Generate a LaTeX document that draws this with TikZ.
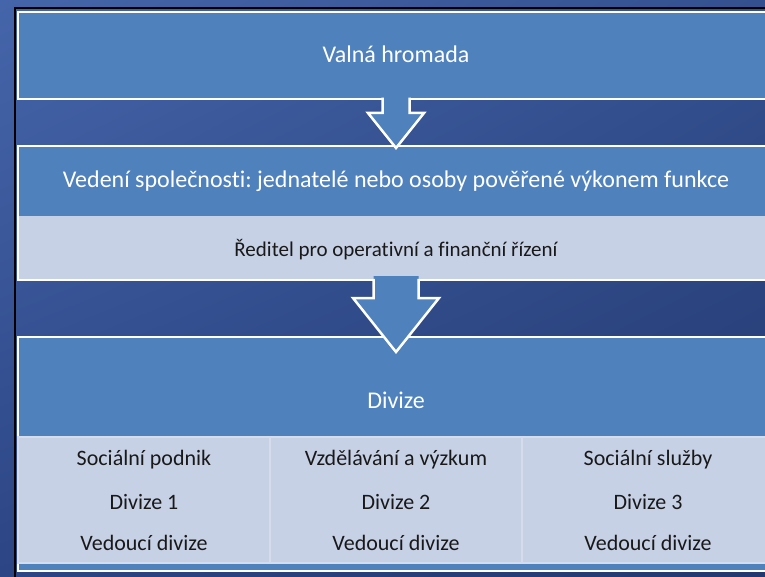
\documentclass[tikz,border=0pt]{standalone}
\usepackage{fontspec}
\setmainfont{Carlito}[Ligatures=NoCommon]
\frenchspacing
\usetikzlibrary{calc,shadings}
\definecolor{boxblue}{HTML}{4F81BD}
\definecolor{celllight}{HTML}{C7D1E5}
\definecolor{celledge}{HTML}{D5DCEB}
\definecolor{bgtl}{HTML}{4565AA}
\definecolor{bgtr}{HTML}{34508F}
\definecolor{bgbl}{HTML}{2C4584}
\definecolor{bgbr}{HTML}{22386F}
% block arrow below a node: anchor, shaft half width, head half width, shaft length, total length
\newcommand{\blockdown}[5]{%
  \fill[boxblue] ($(#1)+(-#2,-4)$) -- ($(#1)+(-#2,#4)$) -- ($(#1)+(-#3,#4)$) -- ($(#1)+(0,#5)$)
    -- ($(#1)+(#3,#4)$) -- ($(#1)+(#2,#4)$) -- ($(#1)+(#2,-4)$) -- cycle;
  \draw[white,line width=2.5pt,line join=miter] ($(#1)+(-#2,-1.25)$) -- ($(#1)+(-#2,#4)$) -- ($(#1)+(-#3,#4)$)
    -- ($(#1)+(0,#5)$) -- ($(#1)+(#3,#4)$) -- ($(#1)+(#2,#4)$) -- ($(#1)+(#2,-1.25)$);}

\begin{document}
\begin{tikzpicture}[x=1pt,y=-1pt]

    % `panel' is used for the three big boxes.
    % `band' is the light strip under a heading.
    % `cell' is one column of the divisions.
    \tikzstyle{panel} = [draw=white,line width=2.5pt,fill=boxblue,minimum width=756pt,inner sep=0pt,outer sep=0pt]
    \tikzstyle{band} = [fill=celllight,minimum width=753.5pt,inner sep=0pt,outer sep=0pt]
    \tikzstyle{cell} = [draw=celledge,line width=1.5pt,fill=celllight,minimum width=252pt,minimum height=126pt,inner sep=0pt]
    \tikzstyle{heading} = [text=white,font=\fontsize{24}{28}\selectfont,anchor=base,inner sep=0pt]
    \tikzstyle{entry} = [text=black!90,font=\fontsize{22}{26}\selectfont,anchor=base,inner sep=0pt]
    %
    \useasboundingbox (0,0) rectangle (765,577);
    \shade[upper left=bgtl,upper right=bgtr,lower left=bgbl,lower right=bgbr] (0,0) rectangle (765,577);
    \clip (0,0) rectangle (765,577);
    \draw[black,line width=1.2pt] (15,8) rectangle (790,590);

    % First level.
    \node[panel,minimum height=87pt] (valna) at (396,55.5) {};

    % Second level.
    \node[panel,minimum height=134pt] (vedeni) at (396,213) {};
    \node[band,minimum height=62.75pt] (band) at (396,247.4) {};
    \blockdown{valna.south}{13.5}{28}{14}{49}

    % Third level.
    \node[panel,minimum height=234pt] (divize) at (396,454) {};
    \foreach \num/\x/\title in {1/144/Sociální podnik,2/396/Vzdělávání a výzkum,3/648/Sociální služby} {
        \node[cell] (cell\num) at (\x,500) {};
        \node[entry] (title\num) at (\x,465) {\title};
        \node[entry] (div\num) at (\x,509) {Divize \num};
        \node[entry] (head\num) at (\x,550) {Vedoucí divize};
    }
    \blockdown{vedeni.south}{22.5}{43}{18}{72}

    % Texts.
    \node[heading] (valnatext) at (396,63) {Valná hromada};
    \node[heading] (vedenitext) at (396,188) {Vedení společnosti: jednatelé nebo osoby pověřené výkonem funkce};
    \node[entry,font=\fontsize{21}{25}\selectfont] (reditel) at (396,256) {Ředitel pro operativní a finanční řízení};
    \node[heading] (divizetext) at (396,408) {Divize};
    %
\end{tikzpicture}
\end{document}
